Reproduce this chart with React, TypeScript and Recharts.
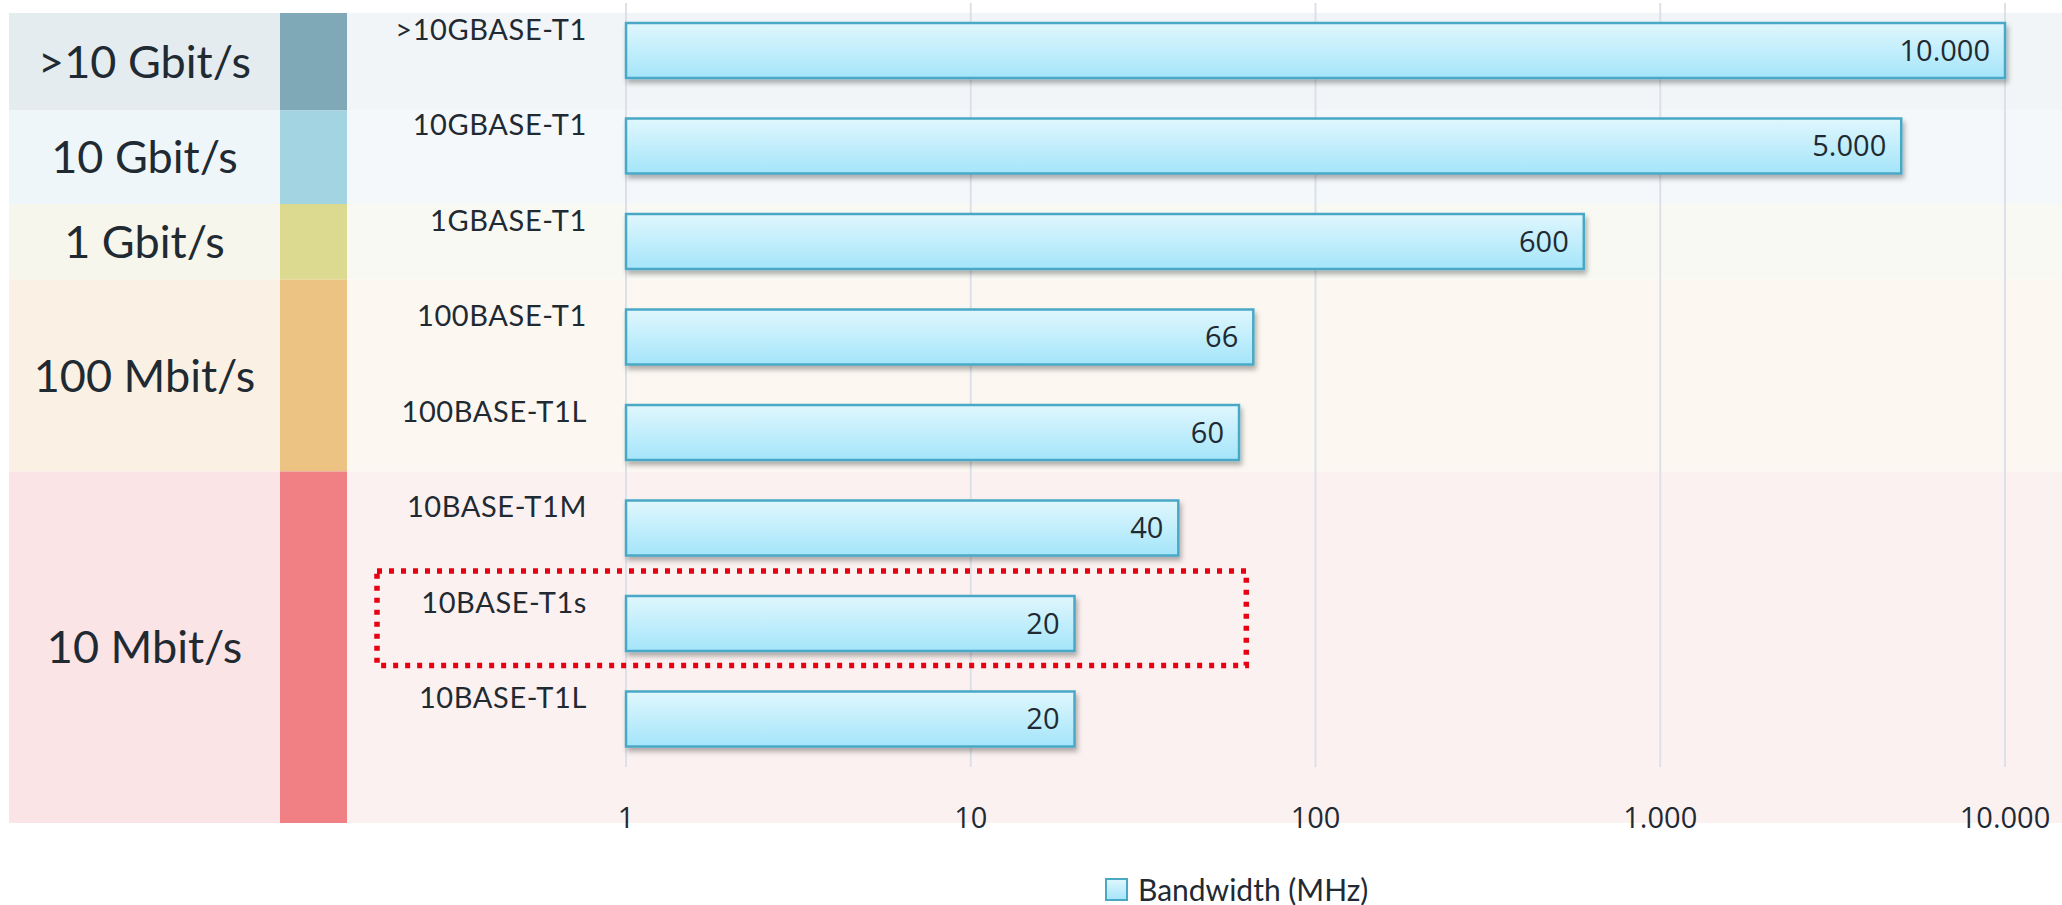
import {
  BarChart,
  Bar,
  XAxis,
  YAxis,
  CartesianGrid,
  ReferenceArea,
  LabelList,
  Legend,
} from "recharts";

// Automotive Ethernet PHYs and their signal bandwidth
const categories = [
  ">10GBASE-T1",
  "10GBASE-T1",
  "1GBASE-T1",
  "100BASE-T1",
  "100BASE-T1L",
  "10BASE-T1M",
  "10BASE-T1s",
  "10BASE-T1L",
];
const bandwidthMHz = [10000, 5000, 600, 66, 60, 40, 20, 20];
const xTicks = [1, 10, 100, 1000, 10000];

// Data-rate classes, each spanning a run of categories
const speedClasses = [">10 Gbit/s", "10 Gbit/s", "1 Gbit/s", "100 Mbit/s", "10 Mbit/s"];
const classFirst = [">10GBASE-T1", "10GBASE-T1", "1GBASE-T1", "100BASE-T1", "10BASE-T1M"];
const classLast = [">10GBASE-T1", "10GBASE-T1", "1GBASE-T1", "100BASE-T1L", "10BASE-T1L"];

// Highlighted PHY and how far (MHz) the frame reaches
const highlighted = "10BASE-T1s";
const highlightUpTo = 63;

const SPEED_COLORS = [
  { label: "#e4ecef", strip: "#80a9b7", plot: "#f2f5f7" },
  { label: "#eef6f9", strip: "#a3d4e1", plot: "#f4f8fb" },
  { label: "#f7f6ec", strip: "#dcd990", plot: "#f9f9f3" },
  { label: "#faf1e4", strip: "#ecc382", plot: "#fcf8f1" },
  { label: "#fbe4e6", strip: "#f08084", plot: "#fcf1f1" },
];

// Band edges are nudged off the category boundaries (px), top to bottom
const EDGE_NUDGE = [10, 12, 10, -10, -9];
const AXIS_EXTRA = 56;

const W = 2062;
const H = 905;
const TEXT = "#1f2a33";
const COND_FONT = "Lato, 'Noto Sans', sans-serif";
const NUM_FONT = "'Open Sans', 'Noto Sans', sans-serif";
const BAR_STROKE = "#4aa8c5";

const LABEL_COL_X = 9;
const STRIP_X = 280;
const PLOT_BG_X = 347;

const fmt = (v: number) => String(v).replace(/\B(?=(\d{3})+(?!\d))/g, ".");

const data = categories.map((name, i) => ({ name, bw: bandwidthMHz[i] }));

function SpeedBand(props: any) {
  const { y, height, idx } = props;
  const c = SPEED_COLORS[idx];
  const isLast = idx === speedClasses.length - 1;
  const top = y + EDGE_NUDGE[idx];
  const bottom = isLast ? y + height + AXIS_EXTRA : y + height + EDGE_NUDGE[idx + 1];
  const h = bottom - top;
  return (
    <g>
      <rect x={LABEL_COL_X} y={top} width={STRIP_X - LABEL_COL_X} height={h} fill={c.label} />
      <rect x={STRIP_X} y={top} width={PLOT_BG_X - STRIP_X} height={h} fill={c.strip} />
      <rect x={PLOT_BG_X} y={top} width={W - PLOT_BG_X} height={h} fill={c.plot} />
      <text
        x={(LABEL_COL_X + STRIP_X) / 2}
        y={top + h / 2 + 16}
        textAnchor="middle"
        fill={TEXT}
        fontSize={45}
        fontFamily={COND_FONT}
      >
        {speedClasses[idx]}
      </text>
    </g>
  );
}

function HighlightBox(props: any) {
  const { x, y, width, height } = props;
  const left = PLOT_BG_X + 30;
  return (
    <rect
      x={left}
      y={y - 5}
      width={x + width - left}
      height={height - 1}
      fill="none"
      stroke="#e60012"
      strokeWidth={5.5}
      strokeDasharray="5 7"
    />
  );
}

const CategoryTick = ({ x, y, payload }: any) => (
  <text
    x={x}
    y={y - 11}
    textAnchor="end"
    fill={TEXT}
    fontSize={29}
    letterSpacing={0.6}
    fontFamily={COND_FONT}
  >
    {payload.value}
  </text>
);

const BarShape = (p: any) => (
  <rect
    x={p.x}
    y={p.y}
    width={p.width}
    height={p.height}
    fill="url(#barFill)"
    stroke={BAR_STROKE}
    strokeWidth={2.5}
    filter="url(#barShadow)"
  />
);

const LegendContent = () => (
  <div
    style={{
      display: "flex",
      alignItems: "center",
      fontFamily: COND_FONT,
      fontSize: 30,
      lineHeight: "30px",
      color: TEXT,
    }}
  >
    <svg width={23} height={23}>
      <defs>
        <linearGradient id="legendFill" x1="0" y1="0" x2="0" y2="1">
          <stop offset="0%" stopColor="#e0f7fd" />
          <stop offset="100%" stopColor="#a4e5fa" />
        </linearGradient>
      </defs>
      <rect x={1} y={1} width={21} height={21} fill="url(#legendFill)" stroke={BAR_STROKE} strokeWidth={2} />
    </svg>
    <span style={{ marginLeft: 10 }}>Bandwidth (MHz)</span>
  </div>
);

export default function App() {
  return (
    <div style={{ position: "absolute", left: 0, top: 0, width: W, height: H, background: "#fff" }}>
      <BarChart
        width={W}
        height={H}
        data={data}
        layout="vertical"
        margin={{ top: 3, right: 57, bottom: 78, left: 0 }}
        barCategoryGap={0}
      >
        <defs>
          <linearGradient id="barFill" x1="0" y1="0" x2="0" y2="1">
            <stop offset="0%" stopColor="#e0f7fd" />
            <stop offset="100%" stopColor="#a4e5fa" />
          </linearGradient>
          <filter id="barShadow" x="-5%" y="-20%" width="110%" height="150%">
            <feDropShadow dx="2" dy="4" stdDeviation="2.5" floodColor="#000" floodOpacity="0.3" />
          </filter>
        </defs>

        {speedClasses.map((s, i) => (
          <ReferenceArea
            key={s}
            y1={classFirst[i]}
            y2={classLast[i]}
            ifOverflow="visible"
            zIndex={-200}
            shape={(p: any) => <SpeedBand {...p} idx={i} />}
          />
        ))}

        <CartesianGrid vertical horizontal={false} stroke="#dce1e9" strokeWidth={2} />

        <XAxis
          type="number"
          scale="log"
          domain={[1, 10000]}
          ticks={xTicks}
          tickFormatter={fmt}
          axisLine={false}
          tickLine={false}
          tickSize={0}
          tickMargin={40}
          height={60}
          tick={{ fill: TEXT, fontSize: 29, fontFamily: NUM_FONT }}
        />
        <YAxis
          type="category"
          dataKey="name"
          width={626}
          interval={0}
          axisLine={false}
          tickLine={false}
          tickSize={0}
          tickMargin={39}
          tick={<CategoryTick />}
        />

        <Bar dataKey="bw" barSize={55} isAnimationActive={false} shape={BarShape}>
          <LabelList
            dataKey="bw"
            position="insideRight"
            offset={15}
            formatter={(v: any) => fmt(Number(v))}
            fill={TEXT}
            fontSize={29}
            fontFamily={NUM_FONT}
          />
        </Bar>

        <ReferenceArea
          y1={highlighted}
          y2={highlighted}
          x1={1}
          x2={highlightUpTo}
          ifOverflow="visible"
          zIndex={1500}
          shape={HighlightBox}
        />

        <Legend
          layout="horizontal"
          verticalAlign="middle"
          align="center"
          wrapperStyle={{ left: 1105, top: 874, width: "auto", height: "auto" }}
          content={<LegendContent />}
        />
      </BarChart>
    </div>
  );
}
